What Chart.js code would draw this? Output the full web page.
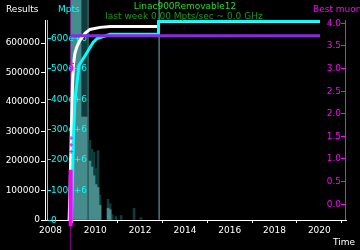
<!DOCTYPE html>
<html>
<head>
<meta charset="utf-8">
<script src="https://cdn.jsdelivr.net/npm/chart.js@4"></script>
<style>
  html, body { margin: 0; padding: 0; background: #000; }
  canvas { display: block; }
</style>
</head>
<body>
<canvas id="chart" width="360" height="250"></canvas>
<script>
// tick labels
const xTicks = [2008, 2010, 2012, 2014, 2016, 2018, 2020];
const resultTicks = [0, 100000, 200000, 300000, 400000, 500000, 600000];
const mptsTicks = [0, 100, 200, 300, 400, 500, 600];
const muonTicks = [0, 0.5, 1, 1.5, 2, 2.5, 3, 3.5, 4];

// cumulative results (white)
const resultYears = [2008.83, 2008.88, 2008.93, 2008.98, 2009.03, 2009.09, 2009.18, 2009.32, 2009.54, 2009.76, 2010.21, 2010.66, 2012.80, 2012.82, 2020.03];
const resultVals  = [0, 130000, 300000, 460000, 530000, 565000, 588000, 610000, 633000, 646000, 653000, 656000, 656000, 673000, 673000];

// cumulative Mpts (cyan), in units of 1e6
const mptsYears = [2008.93, 2008.98, 2009.02, 2009.09, 2009.27, 2009.63, 2009.90, 2010.08, 2010.66, 2012.80, 2012.82, 2020.03];
const mptsVals  = [0, 130, 262, 394, 510, 553, 586, 599, 613, 613, 656, 656];

// best muon (purple) and its history (magenta)
const bestYears = [2008.90, 2020.03];
const bestVals  = [3.71, 3.71];
const muonYears = [2008.92, 2008.94, 2008.96, 2008.98, 2008.92, 2008.92, 2008.92];
const muonVals  = [3.05, 2.95, 3.1, 3.0, 1.45, 1.3, 1.15];
const muonLowYears = [2008.90, 2008.90];
const muonLowVals  = [0.75, -0.5];
const markYears = [2008.89, 2008.89];
const markVals  = [20, -20];

// throughput histogram (teal)
const histYears = [2008.96, 2009.05, 2009.14, 2009.23, 2009.32, 2009.41, 2009.50, 2009.59, 2009.76, 2009.85, 2009.94, 2010.03, 2010.12, 2010.21, 2010.57, 2010.66, 2010.75, 2010.92, 2011.15, 2011.73, 2012.04];
const histLight = [800000, 800000, 800000, 800000, 800000, 349000, 349000, 349000, 200000, 180000, 150000, 120000, 110000, 50000, 40000, 35000, null, null, null, null, null];
const histDark  = [null, null, null, null, null, 800000, 800000, 800000, 270000, 240000, 230000, 175000, 235000, 85000, 70000, 55000, 18000, 12000, 15000, 40000, 8000];
const spikeYears = [2009.67, 2012.85];
const spikeVals  = [800000, 800000];

const FONT = 'DejaVu Sans';
const pts = (xs, ys) => xs.map((x, i) => ({ x: x, y: ys[i] }));
const fixTicks = list => scale => { scale.ticks = list.map(v => ({ value: v })); };
const WHITE_INDEX = 4;

function drawSideAxes(chart) {
  const ctx = chart.ctx, a = chart.chartArea;
  ctx.save();
  ctx.font = '9px "' + FONT + '"';
  ctx.textBaseline = 'middle';
  ctx.lineWidth = 1;
  // Mpts axis, drawn just inside the plot
  const m = chart.scales.y1;
  ctx.strokeStyle = '#00ffff';
  ctx.fillStyle = '#00ffff';
  ctx.beginPath();
  ctx.moveTo(a.left + 2.5, a.top);
  ctx.lineTo(a.left + 2.5, a.bottom);
  ctx.stroke();
  ctx.textAlign = 'left';
  mptsTicks.forEach(v => {
    const y = Math.round(m.getPixelForValue(v)) + 0.5;
    ctx.beginPath();
    ctx.moveTo(a.left + 2.5, y);
    ctx.lineTo(a.left + 6, y);
    ctx.stroke();
    ctx.fillText(v === 0 ? '0' : v + 'e+6', a.left + 6, y);
  });
  // best muon axis on the right
  const b = chart.scales.y2;
  ctx.strokeStyle = '#ff00ff';
  ctx.fillStyle = '#ff00ff';
  ctx.beginPath();
  ctx.moveTo(a.right - 0.5, a.top);
  ctx.lineTo(a.right - 0.5, a.bottom);
  ctx.stroke();
  ctx.textAlign = 'right';
  muonTicks.forEach(v => {
    const y = Math.round(b.getPixelForValue(v)) + 0.5;
    ctx.beginPath();
    ctx.moveTo(a.right - 5, y);
    ctx.lineTo(a.right - 0.5, y);
    ctx.stroke();
    ctx.fillText(v.toFixed(1), a.right - 5, y);
  });
  ctx.restore();
}

const sideAxes = {
  id: 'sideAxes',
  // after the histogram bars, before the curves
  beforeDatasetDraw(chart, args) {
    if (args.index === WHITE_INDEX) drawSideAxes(chart);
  },
  afterDraw(chart) {
    const ctx = chart.ctx;
    ctx.save();
    ctx.font = '9px "' + FONT + '"';
    ctx.textBaseline = 'alphabetic';
    ctx.textAlign = 'left';
    ctx.fillStyle = '#ffffff';
    ctx.fillText('Results', 6, 12);
    ctx.fillStyle = '#00ffff';
    ctx.fillText('Mpts', 58, 12);
    ctx.fillStyle = '#ff00ff';
    ctx.fillText('Best muon', 313, 12);
    ctx.fillStyle = '#ffffff';
    ctx.fillText('Time', 333, 245);
    ctx.textAlign = 'center';
    ctx.fillStyle = '#22dd22';
    ctx.fillText('Linac900Removable12', 185, 9);
    ctx.fillStyle = '#1a9a1a';
    ctx.fillText('last week 0.00 Mpts/sec ~ 0.0 GHz', 184, 19);
    ctx.restore();
  }
};

new Chart(document.getElementById('chart'), {
  type: 'line',
  data: {
    datasets: [
      { data: pts(muonYears, muonVals), yAxisID: 'y2', showLine: false, pointStyle: 'cross',
        pointRadius: 2, borderColor: '#ff00ff', borderWidth: 1, clip: false, order: 0 },
      { data: pts(muonLowYears, muonLowVals), yAxisID: 'y2', borderColor: '#ff00ff', borderWidth: 4,
        pointRadius: 0, clip: false, order: 1 },
      { data: pts(bestYears, bestVals), yAxisID: 'y2', borderColor: '#8a2be2', borderWidth: 3,
        pointRadius: 0, order: 2 },
      { data: pts(mptsYears, mptsVals), yAxisID: 'y1', borderColor: '#00ffff', borderWidth: 3,
        pointRadius: 0, order: 3 },
      { data: pts(resultYears, resultVals), yAxisID: 'y', borderColor: '#ffffff', borderWidth: 3,
        pointRadius: 0, order: 4 },
      { type: 'bar', data: pts(histYears, histLight), yAxisID: 'y', backgroundColor: '#468c8c',
        barThickness: 2, grouped: false, clip: false, order: 5 },
      { type: 'bar', data: pts(histYears, histDark), yAxisID: 'y', backgroundColor: '#0f3c3c',
        barThickness: 2, grouped: false, clip: false, order: 6 },
      { type: 'bar', data: pts(spikeYears, spikeVals), yAxisID: 'y', backgroundColor: '#3f6f6f',
        barThickness: 1, grouped: false, clip: false, order: 7 },
      { data: pts(markYears, markVals), yAxisID: 'y2', borderColor: '#800080', borderWidth: 1,
        pointRadius: 0, clip: false, order: 8 }
    ]
  },
  options: {
    responsive: false,
    animation: false,
    devicePixelRatio: 1,
    layout: { padding: { top: 20, right: 14, left: 0, bottom: 0 } },
    plugins: { legend: { display: false }, tooltip: { enabled: false } },
    scales: {
      x: {
        type: 'linear', min: 2007.754, max: 2021.19, offset: false,
        afterBuildTicks: fixTicks(xTicks),
        afterFit: s => { s.height = 30; },
        grid: { display: true, drawOnChartArea: false, drawTicks: true, tickLength: 3, color: '#ffffff' },
        border: { display: true, color: '#ffffff' },
        ticks: { color: '#ffffff', font: { family: FONT, size: 9 }, padding: 2, maxRotation: 0,
                 callback: v => String(v) }
      },
      y: {
        position: 'left', min: 0, max: 678000,
        afterBuildTicks: fixTicks(resultTicks),
        afterFit: s => { s.width = 45; },
        grid: { display: true, drawOnChartArea: false, drawTicks: true, tickLength: 4, color: '#ffffff' },
        border: { display: true, color: '#ffffff' },
        ticks: { color: '#ffffff', font: { family: FONT, size: 9 }, padding: 1,
                 callback: v => String(v) }
      },
      y1: { position: 'left', display: false, min: 0, max: 660 },
      y2: { position: 'right', display: false, min: -0.36, max: 4.06 }
    }
  },
  plugins: [sideAxes]
});
</script>
</body>
</html>
